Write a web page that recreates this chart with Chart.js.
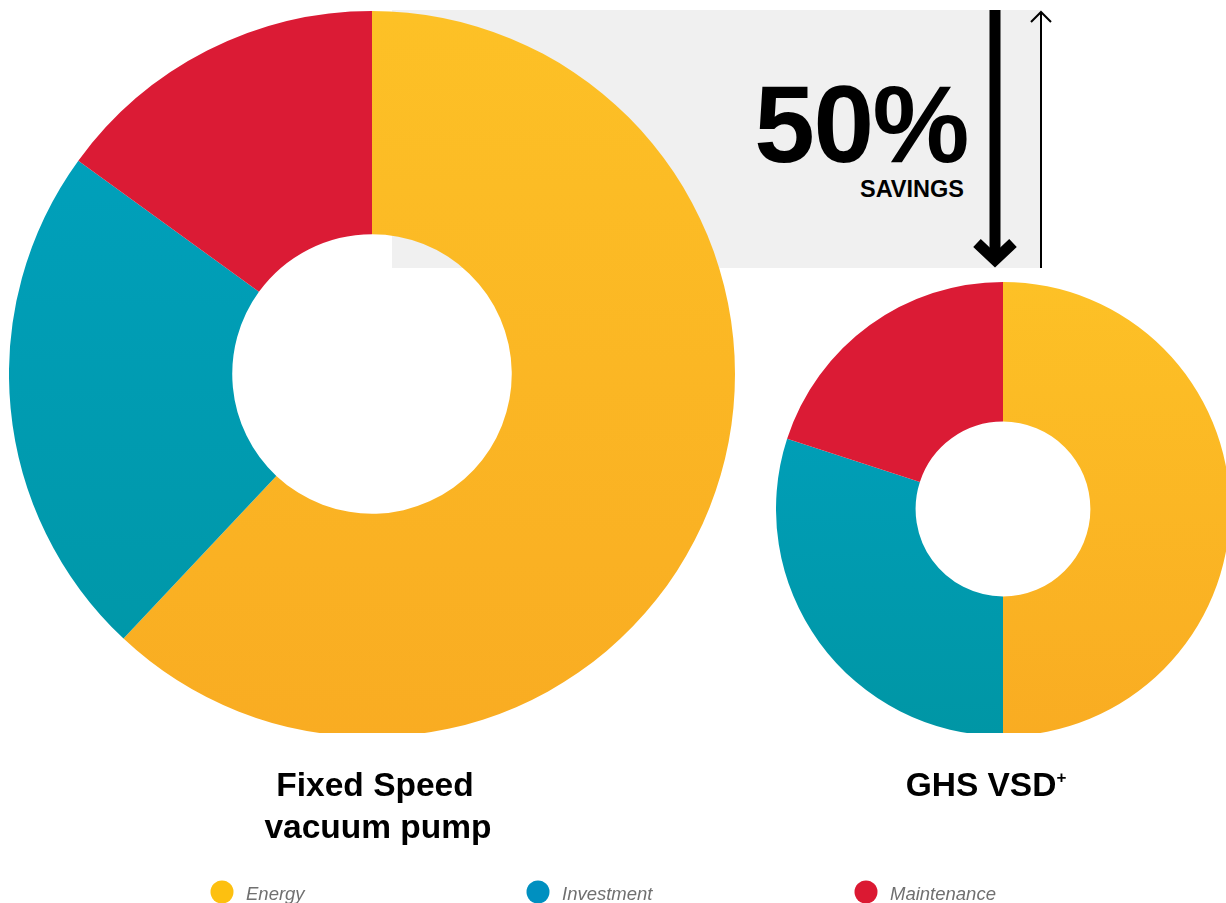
<!DOCTYPE html>
<html>
<head>
<meta charset="utf-8">
<script src="https://cdn.jsdelivr.net/npm/chart.js@4.4.1/dist/chart.umd.min.js"></script>
<style>
  html, body { margin: 0; padding: 0; background: #ffffff; width: 1226px; height: 903px; overflow: hidden; }
  #stage { position: relative; width: 1226px; height: 903px; overflow: hidden; font-family: "Liberation Sans", Arial, sans-serif; }
  #bg { position: absolute; left: 0; top: 0; z-index: 0; }
  .clip { position: absolute; overflow: hidden; z-index: 1; }
  canvas { position: absolute; }
  #fg { position: absolute; left: 0; top: 0; z-index: 2; pointer-events: none; }
</style>
</head>
<body>
<div id="stage">
  <svg id="bg" width="1226" height="903" xmlns="http://www.w3.org/2000/svg">
    <rect x="392" y="10" width="649" height="258" fill="#f0f0f0"/>
    <line x1="995" y1="10" x2="995" y2="258" stroke="#000" stroke-width="11"/>
    <polyline points="977,243 995,260 1013,243" fill="none" stroke="#000" stroke-width="11" stroke-linejoin="miter"/>
    <line x1="1041" y1="12" x2="1041" y2="268" stroke="#000" stroke-width="2"/>
    <polyline points="1031,22 1041,12 1051,22" fill="none" stroke="#000" stroke-width="2"/>
    <text id="savingsValue" x="968" y="162" text-anchor="end" font-family="Liberation Sans, Arial, sans-serif" font-weight="bold" font-size="109" letter-spacing="-1.5" fill="#000"></text>
    <text id="savingsLabel" x="964" y="197" text-anchor="end" font-family="Liberation Sans, Arial, sans-serif" font-weight="bold" font-size="23.5" fill="#000"></text>
  </svg>
  <div class="clip" style="left:0;top:0;width:760px;height:733px;">
    <canvas id="big" width="726" height="726" style="left:9px;top:11px;width:726px;height:726px;"></canvas>
  </div>
  <div class="clip" style="left:760px;top:0;width:466px;height:733px;">
    <canvas id="small" width="454" height="454" style="left:16px;top:282px;width:454px;height:454px;"></canvas>
  </div>
  <svg id="fg" width="1226" height="903" xmlns="http://www.w3.org/2000/svg"></svg>
</div>
<script>
// ---- data ----
const categories = ["Energy", "Investment", "Maintenance"];
const fixedSpeedShares = [62, 23, 15];   // % of Fixed Speed total cost
const ghsVsdShares = [50, 30, 20];       // % of GHS VSD+ total cost
const chartTitles = [["Fixed Speed", "vacuum pump"], ["GHS VSD", "+"]];
const savingsValue = "50%";
const savingsLabel = "SAVINGS";

// ---- styles ----
const gradTop = ["#fdc126", "#00a2c0", "#db1b35"];
const gradBottom = ["#f9ac22", "#0096a5", "#db1b35"];
const legendColors = ["#fdc010", "#0090c0", "#db1932"];

function sliceColor(ctx) {
  const chart = ctx.chart;
  const area = chart.chartArea;
  const i = ctx.dataIndex;
  if (!area) return gradTop[i];
  const g = chart.ctx.createLinearGradient(0, area.top, 0, area.bottom);
  g.addColorStop(0, gradTop[i]);
  g.addColorStop(1, gradBottom[i]);
  return g;
}

function makeDoughnut(id, values) {
  return new Chart(document.getElementById(id), {
    type: "doughnut",
    data: {
      labels: categories,
      datasets: [{
        data: values,
        backgroundColor: sliceColor,
        borderWidth: 0,
        hoverOffset: 0
      }]
    },
    options: {
      responsive: false,
      animation: false,
      cutout: "38.5%",
      rotation: 0,
      layout: { padding: 0 },
      plugins: {
        legend: { display: false },
        tooltip: { enabled: false },
        title: { display: false }
      },
      events: []
    }
  });
}

makeDoughnut("big", fixedSpeedShares);
makeDoughnut("small", ghsVsdShares);

// ---- texts ----
document.getElementById("savingsValue").textContent = savingsValue;
document.getElementById("savingsLabel").textContent = savingsLabel;

const NS = "http://www.w3.org/2000/svg";
const fg = document.getElementById("fg");
function addText(x, y, str, attrs) {
  const t = document.createElementNS(NS, "text");
  t.setAttribute("x", x);
  t.setAttribute("y", y);
  for (const k in attrs) t.setAttribute(k, attrs[k]);
  t.textContent = str;
  fg.appendChild(t);
  return t;
}
const titleAttrs = { "text-anchor": "middle", "font-family": "Liberation Sans, Arial, sans-serif", "font-weight": "bold", "font-size": "33.5", fill: "#000" };
addText(375, 796, chartTitles[0][0], titleAttrs);
addText(378, 838, chartTitles[0][1], titleAttrs);
const t2 = addText(986, 796, chartTitles[1][0], titleAttrs);
const sup = document.createElementNS(NS, "tspan");
sup.setAttribute("font-size", "17");
sup.setAttribute("dy", "-13");
sup.textContent = chartTitles[1][1];
t2.appendChild(sup);

// legend
const legendX = [222, 538, 866];
categories.forEach((c, i) => {
  const circ = document.createElementNS(NS, "circle");
  circ.setAttribute("cx", legendX[i]);
  circ.setAttribute("cy", 892);
  circ.setAttribute("r", 11.5);
  circ.setAttribute("fill", legendColors[i]);
  fg.appendChild(circ);
  addText(legendX[i] + 24, 900, c, { "font-family": "Liberation Sans, Arial, sans-serif", "font-style": "italic", "font-size": "18.5", fill: "#707070" });
});
</script>
</body>
</html>
